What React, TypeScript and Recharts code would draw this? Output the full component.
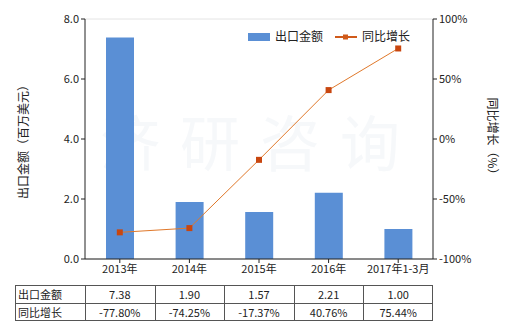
import React from 'react';
import { ComposedChart, Bar, Line, XAxis, YAxis, CartesianGrid } from 'recharts';

const categories = ['2013年', '2014年', '2015年', '2016年', '2017年1-3月'];
const exportValues = [7.38, 1.9, 1.57, 2.21, 1.0];
const growthValues = [-77.8, -74.25, -17.37, 40.76, 75.44];
const exportLabels = ['7.38', '1.90', '1.57', '2.21', '1.00'];
const growthLabels = ['-77.80%', '-74.25%', '-17.37%', '40.76%', '75.44%'];
const leftTicks = [0, 2, 4, 6, 8];
const rightTicks = [-100, -50, 0, 50, 100];

const data = categories.map((c, i) => ({ name: c, v: exportValues[i], g: growthValues[i] }));

const FONT = '"Noto Sans CJK SC", "Noto Sans", sans-serif';
const BAR = '#5a8fd5';
const LINE = '#d05a1a';

const Square = (props: any) => {
  const { cx, cy } = props;
  if (cx == null || cy == null) return null;
  return <rect x={cx - 3} y={cy - 3} width={6} height={6} fill="#c8460f" />;
};

export default function App() {
  const colLeft = 15;
  const firstW = 70;
  const colW = 69.6;
  const rowH = 18;
  const tableTop = 285;
  const cell = (x: number, y: number, w: number, text: string, align: 'left' | 'center') => (
    <div
      key={`${x}-${y}`}
      style={{
        position: 'absolute', left: x, top: y, width: w, height: rowH,
        lineHeight: `${rowH}px`, fontSize: 11, fontFamily: FONT, color: '#222',
        textAlign: align, paddingLeft: align === 'left' ? 3 : 0, boxSizing: 'border-box',
      }}
    >
      {text}
    </div>
  );
  return (
    <div style={{ position: 'absolute', left: 0, top: 0, width: 520, height: 330, background: '#fff', fontFamily: FONT }}>
      <ComposedChart width={520} height={330} data={data}
        margin={{ top: 19, right: 32, left: 30, bottom: 51 }}>
        <text x={260} y={150} textAnchor="middle" dominantBaseline="middle" fontSize={60}
          fontFamily={FONT} fill="#eef2f7" opacity={0.5} letterSpacing={20}>济研咨询</text>
        <CartesianGrid vertical={false} stroke="#e4e4e4" />
        <XAxis dataKey="name" stroke="#222" tick={{ fontSize: 11, fill: '#222', fontFamily: FONT }}
          tickLine={{ stroke: '#222' }} tickSize={4} height={20} interval={0} />
        <YAxis yAxisId="l" domain={[0, 8]} ticks={leftTicks} width={55} stroke="#222"
          tick={{ fontSize: 11, fill: '#222', fontFamily: FONT }} tickSize={4}
          tickFormatter={(v: number) => v.toFixed(1)}
          label={{ value: '出口金额（百万美元）', angle: -90, position: 'insideLeft', offset: -6, style: { fontSize: 12, fill: '#222', fontFamily: FONT, textAnchor: 'middle' } }} />
        <YAxis yAxisId="r" orientation="right" domain={[-100, 100]} ticks={rightTicks} width={55} stroke="#222"
          tick={{ fontSize: 11, fill: '#222', fontFamily: FONT }} tickSize={4}
          tickFormatter={(v: number) => `${v}%`}
          label={{ value: '同比增长（%）', angle: 90, position: 'insideRight', offset: -4, style: { fontSize: 12, fill: '#222', fontFamily: FONT, textAnchor: 'middle' } }} />
        <Bar yAxisId="l" dataKey="v" fill={BAR} barSize={28} isAnimationActive={false} />
        <Line yAxisId="r" dataKey="g" stroke="#e0782a" strokeWidth={1} dot={<Square />} isAnimationActive={false} />
        <g>
          <rect x={248} y={33} width={22} height={8} fill={BAR} />
          <text x={275} y={41} fontSize={12} fontFamily={FONT} fill="#222">出口金额</text>
          <line x1={335} y1={37} x2={357} y2={37} stroke={LINE} strokeWidth={2} />
          <rect x={343} y={34.5} width={5} height={5} fill={LINE} />
          <text x={362} y={41} fontSize={12} fontFamily={FONT} fill="#222">同比增长</text>
        </g>
      </ComposedChart>
      <div style={{ position: 'absolute', left: colLeft, top: tableTop, width: firstW + colW * 5, height: rowH * 2, border: '1px solid #555', boxSizing: 'border-box' }} />
      <div style={{ position: 'absolute', left: colLeft, top: tableTop + rowH, width: firstW + colW * 5, height: 1, background: '#555' }} />
      {categories.map((_, i) => (
        <div key={`v${i}`} style={{ position: 'absolute', left: colLeft + firstW + colW * i, top: tableTop, width: 1, height: rowH * 2, background: '#555' }} />
      ))}
      {cell(colLeft, tableTop, firstW, '出口金额', 'left')}
      {cell(colLeft, tableTop + rowH, firstW, '同比增长', 'left')}
      {exportLabels.map((t, i) => cell(colLeft + firstW + colW * i, tableTop, colW, t, 'center'))}
      {growthLabels.map((t, i) => cell(colLeft + firstW + colW * i, tableTop + rowH, colW, t, 'center'))}
    </div>
  );
}
